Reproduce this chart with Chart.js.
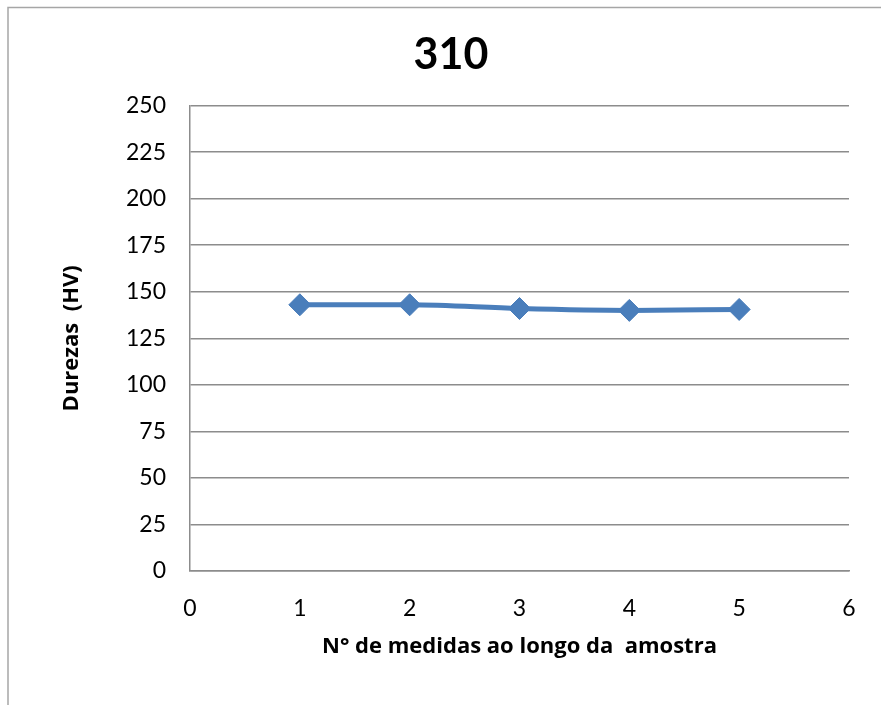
<!DOCTYPE html>
<html>
<head>
<meta charset="utf-8">
<script src="https://cdn.jsdelivr.net/npm/chart.js@4"></script>
<style>
  html, body { margin: 0; padding: 0; background: #ffffff; }
  #chart { display: block; }
</style>
</head>
<body>
<canvas id="chart" width="881" height="705"></canvas>
<script>
// Vickers hardness readings along the sample
const measurePositions = [1, 2, 3, 4, 5];
const hardnessHV = [143, 143, 141, 140, 140.5];
const xTickRange = [0, 6];
const yTickRange = [0, 250];
const chartTitle = '310';
const xAxisTitle = 'N° de medidas ao longo da  amostra';
const yAxisTitle = 'Durezas  (HV)';

const TICK_FONT = 'Lato, "Liberation Sans", sans-serif';
const TITLE_FONT = '"Open Sans", Lato, sans-serif';
const BLUE = '#4a7ebb';
const GRID = '#8c8c8c';

// White page with the thin grey frame round the chart
const framePlugin = {
  id: 'frame',
  beforeDraw(chart) {
    const ctx = chart.ctx;
    ctx.save();
    ctx.fillStyle = '#ffffff';
    ctx.fillRect(0, 0, chart.width, chart.height);
    ctx.strokeStyle = '#a6a6a6';
    ctx.lineWidth = 1.5;
    ctx.strokeRect(8, 7.5, chart.width + 10, chart.height + 10);
    ctx.restore();
  }
};

new Chart(document.getElementById('chart'), {
  type: 'line',
  data: {
    datasets: [{
      data: measurePositions.map((x, i) => ({ x, y: hardnessHV[i] })),
      borderColor: BLUE,
      backgroundColor: BLUE,
      borderWidth: 5,
      pointStyle: 'rectRot',
      pointRadius: 11,
      pointHoverRadius: 11,
      pointBorderWidth: 1,
      pointBorderColor: BLUE,
      pointBackgroundColor: BLUE,
      tension: 0.25,
      cubicInterpolationMode: 'monotone'
    }]
  },
  options: {
    responsive: false,
    devicePixelRatio: 1,
    animation: false,
    layout: { padding: { left: 53, right: 32, top: 0, bottom: 0 } },
    plugins: {
      legend: { display: false },
      tooltip: { enabled: false },
      title: {
        display: true,
        text: chartTitle,
        color: '#000000',
        font: { family: TICK_FONT, size: 43, weight: 'bold', lineHeight: 1.2 },
        padding: { top: 29, bottom: 25 }
      }
    },
    scales: {
      x: {
        type: 'linear',
        min: xTickRange[0],
        max: xTickRange[1],
        afterFit(scale) { scale.height = 134; },
        ticks: {
          stepSize: 1,
          color: '#000000',
          padding: 24,
          font: { family: TICK_FONT, size: 23 }
        },
        grid: { display: false, drawTicks: false },
        border: { display: true, color: GRID, width: 1.5 },
        title: {
          display: true,
          text: xAxisTitle,
          color: '#000000',
          font: { family: TITLE_FONT, size: 22, weight: 'bold', lineHeight: 1.2 },
          padding: { top: 0, bottom: 45 }
        }
      },
      y: {
        type: 'linear',
        min: yTickRange[0],
        max: yTickRange[1],
        afterFit(scale) { scale.width = 137; },
        ticks: {
          stepSize: 25,
          color: '#000000',
          padding: 24,
          font: { family: TICK_FONT, size: 23 }
        },
        grid: { display: true, color: GRID, lineWidth: 1.5, drawTicks: false },
        border: { display: true, color: GRID, width: 1.5 },
        title: {
          display: true,
          text: yAxisTitle,
          color: '#000000',
          font: { family: TITLE_FONT, size: 22, weight: 'bold', lineHeight: 1.2 },
          padding: { top: 6, bottom: 0 }
        }
      }
    }
  },
  plugins: [framePlugin]
});
</script>
</body>
</html>
